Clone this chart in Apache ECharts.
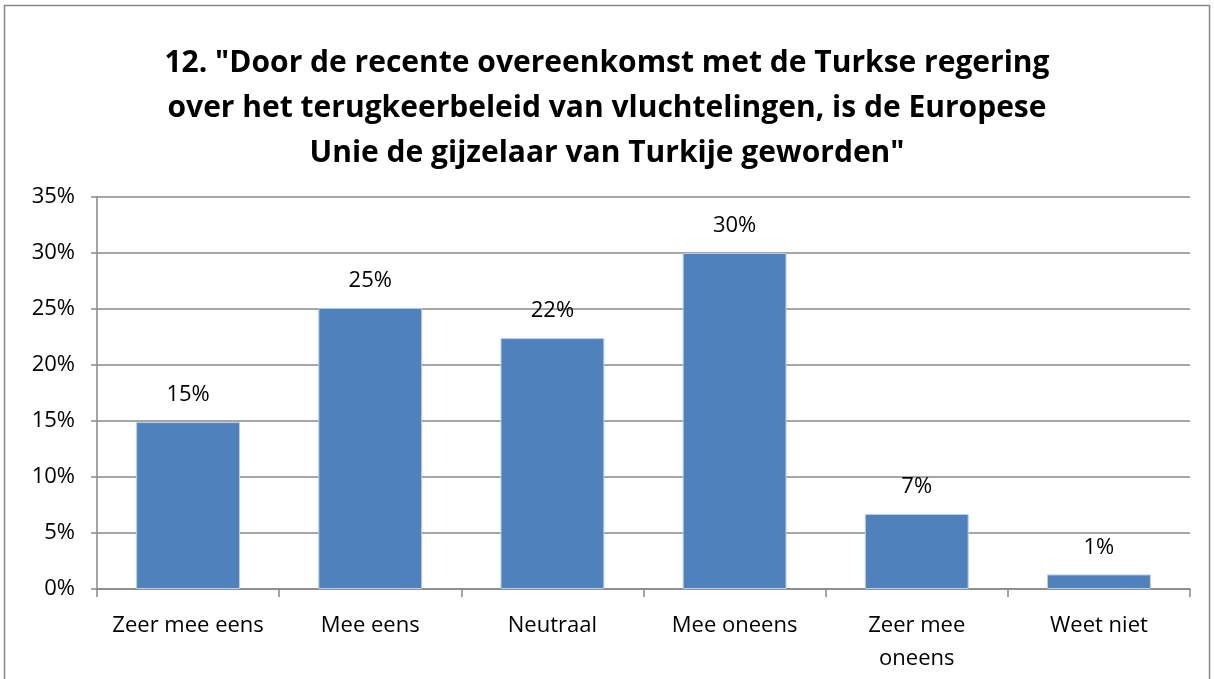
<!DOCTYPE html>
<html><head><meta charset="utf-8">
<script src="https://cdn.jsdelivr.net/npm/echarts@6/dist/echarts.min.js"></script>
<style>html,body{margin:0;padding:0;background:#fff}#c{width:1214px;height:679px}</style>
</head><body><div id="c"></div>
<script>
const categories = ['Zeer mee eens', 'Mee eens', 'Neutraal', 'Mee oneens', 'Zeer mee\noneens', 'Weet niet'];
const values = [14.9, 25.1, 22.4, 30.0, 6.7, 1.3];
const titleText = '12. "Door de recente overeenkomst met de Turkse regering\nover het terugkeerbeleid van vluchtelingen, is de Europese\nUnie de gijzelaar van Turkije geworden"';
const FONT = '"Open Sans", sans-serif';
const chart = echarts.init(document.getElementById('c'), null, {renderer: 'canvas'});
chart.setOption({
  animation: false,
  backgroundColor: '#fff',
  graphic: [{type: 'rect', shape: {x: 4.5, y: 5.5, width: 1205, height: 690}, style: {fill: 'none', stroke: '#888', lineWidth: 1.5}, silent: true}],
  title: {
    text: titleText, left: 'center', top: 36,
    textStyle: {fontFamily: FONT, fontWeight: 'bold', fontSize: 30, lineHeight: 45, color: '#000'}
  },
  grid: {left: 97, right: 24, top: 197, bottom: 90},
  xAxis: {
    type: 'category', data: categories,
    axisLine: {lineStyle: {color: '#888', width: 1.5}},
    axisTick: {show: true, interval: 0, length: 8, lineStyle: {color: '#888', width: 1.5}},
    axisLabel: {interval: 0, fontFamily: FONT, fontSize: 22, color: '#000', margin: 20, lineHeight: 33}
  },
  yAxis: {
    type: 'value', min: 0, max: 35, interval: 5,
    axisLine: {show: true, lineStyle: {color: '#888', width: 1.5}},
    axisTick: {show: true, length: 6, inside: false, lineStyle: {color: '#888', width: 1.5}},
    axisLabel: {formatter: '{value}%', fontFamily: FONT, fontSize: 22, color: '#000', margin: 22},
    splitLine: {lineStyle: {color: '#888', width: 1.5}}
  },
  series: [{
    type: 'bar', data: values, barWidth: '57%',
    itemStyle: {color: '#4F81BD', borderColor: '#b9cde5', borderWidth: 1},
    label: {show: true, position: 'top', distance: 16, fontFamily: FONT, fontSize: 22, color: '#000',
      formatter: p => Math.round(p.value) + '%'}
  }]
});
</script></body></html>
